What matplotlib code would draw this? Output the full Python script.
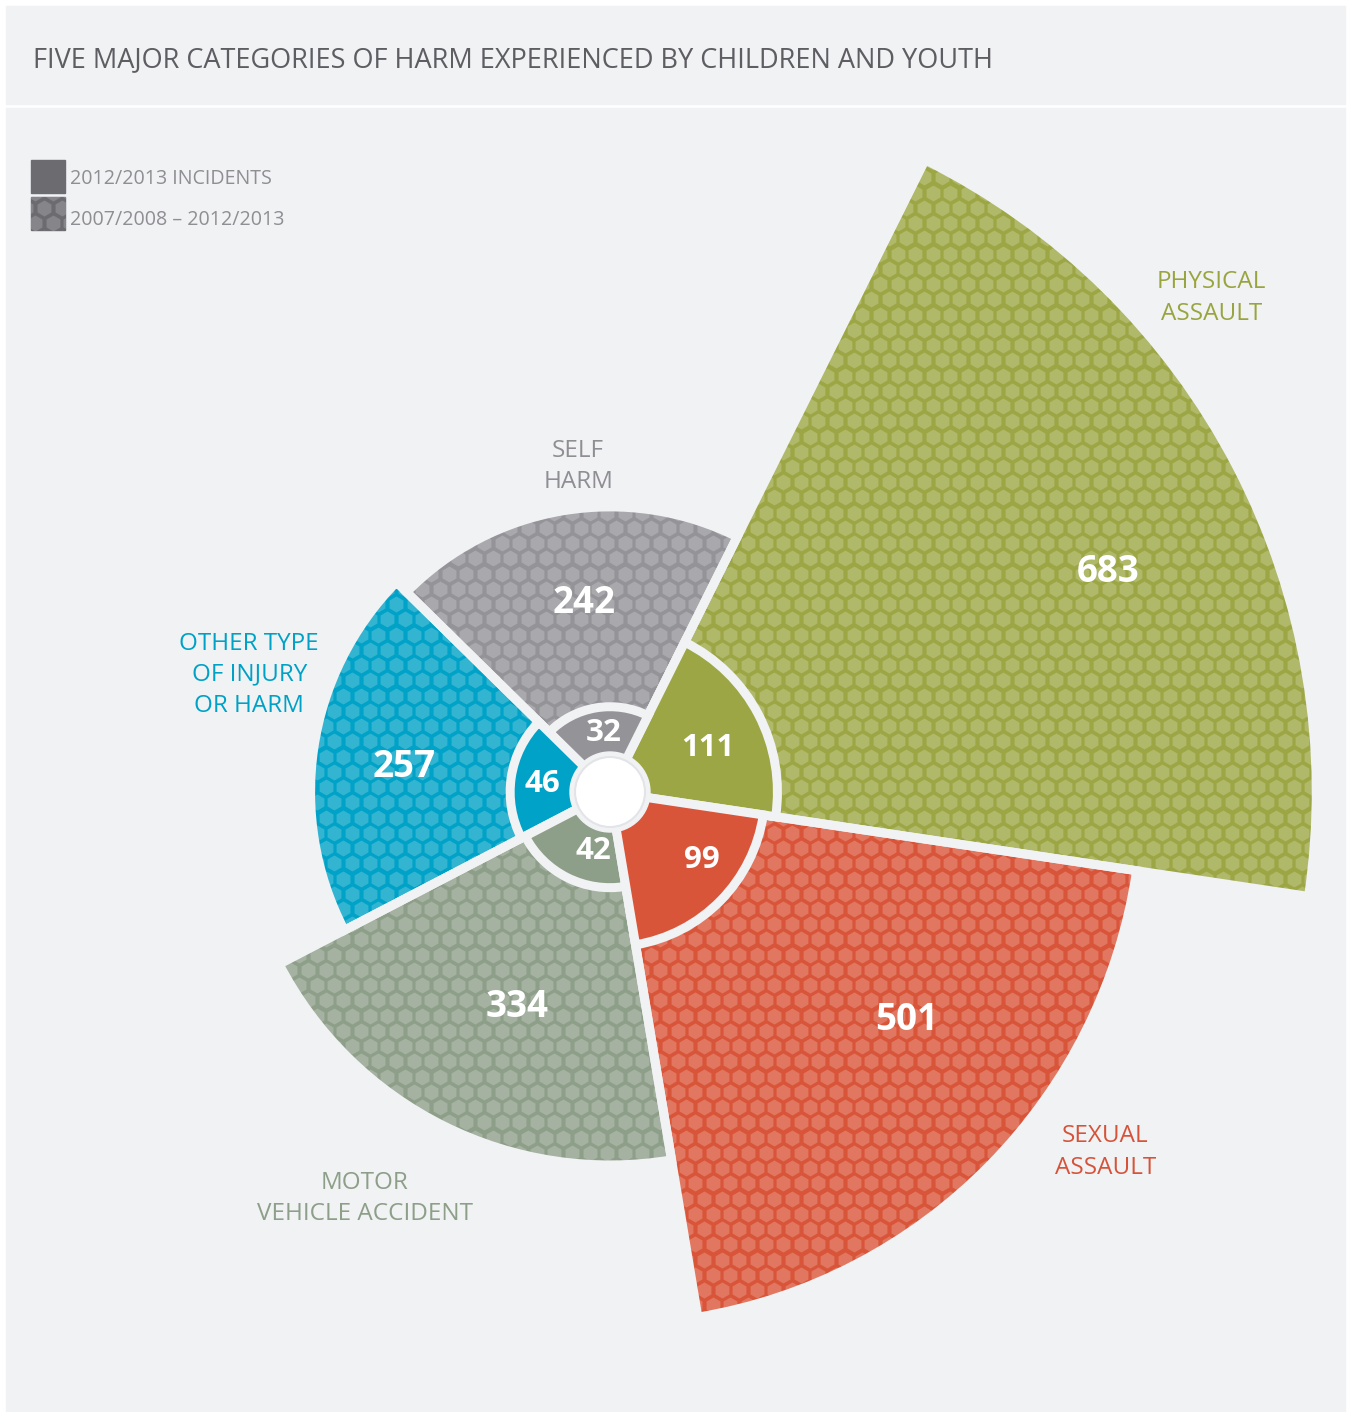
import matplotlib.pyplot as plt
import numpy as np
from matplotlib.patches import Wedge, Circle, Rectangle

# data
categories = ['PHYSICAL\nASSAULT', 'SELF\nHARM', 'OTHER TYPE\nOF INJURY\nOR HARM',
              'MOTOR\nVEHICLE ACCIDENT', 'SEXUAL\nASSAULT']
incidents_1213 = [111, 32, 46, 42, 99]
incidents_0713 = [683, 242, 257, 334, 501]
colors = ['#9ca644', '#939398', '#00a2c7', '#8e9f89', '#d9553a']
text_colors = ['#9aa43f', '#8e8e93', '#00a1c6', '#8d9f89', '#d6533a']
legend_labels = ['2012/2013 INCIDENTS', '2007/2008 \u2013 2012/2013']

# layout (pixels of the output image)
W, H = 1351, 1412
bg = '#f1f2f4'
cx, cy = 610, H - 792
start = -8.5
step = 72
gap_lw = 9 * 72 / 100          # 9 px in points
hole_r = 35


def outer_r(v):
    return 54 + 0.955 * v


def inner_r(v):
    return 52 + 1.04 * v


# label placement tweaks
num_out_shift = [-3.7, -1.6, 1.5, 3.1, 7.0]
num_out_frac = [0.70, 0.53, 0.54, 0.50, 0.58]
num_in_shift = [-3.3, -3.8, 1.5, 10.5, 8.0]
num_in_frac = [0.64, 0.70, 0.68, 0.64, 0.74]
cat_angle = [39.4, 95.6, 162, 238.9, -36]
cat_pad = [72, 42, 80, 102, 80]


def lighten(c, f=0.2):
    rgb = np.array(plt.matplotlib.colors.to_rgb(c))
    return tuple(rgb + (1 - rgb) * f)


def polar(a, r):
    t = np.radians(a)
    return cx + r * np.cos(t), cy + r * np.sin(t)


# honeycomb texture grid
hx = 17.6
hy = hx * np.sqrt(3) / 2
gx, gy = [], []
for k, yy in enumerate(np.arange(0, H + hy, hy)):
    xx = np.arange(0, W + hx, hx) + (hx / 2 if k % 2 else 0)
    gx.extend(xx)
    gy.extend([yy] * len(xx))
gx = np.array(gx)
gy = np.array(gy)
hex_s = (16 * 0.72) ** 2


def hex_fill(patch, color):
    sc = ax.scatter(gx, gy, s=hex_s, marker='h', color=color, linewidths=0, zorder=patch.get_zorder() + 0.5)
    sc.set_clip_path(patch)


fig = plt.figure(figsize=(W / 100, H / 100), dpi=100)
fig.patch.set_facecolor('white')
ax = fig.add_axes([0, 0, 1, 1])
ax.set_xlim(0, W)
ax.set_ylim(0, H)
ax.axis('off')

# panels
ax.add_patch(Rectangle((6, H - 104), W - 12, 98, color=bg, zorder=0))
ax.add_patch(Rectangle((6, 0), W - 12, H - 108, color=bg, zorder=0))

ax.text(33, H - 60, 'FIVE MAJOR CATEGORIES OF HARM EXPERIENCED BY CHILDREN AND YOUTH',
        fontsize=19.5, family='Open Sans', color='#5d5d62', va='center', ha='left')

# legend
box1 = Rectangle((31, H - 193), 34, 33, color='#6b6b70', zorder=2)
ax.add_patch(box1)
box2 = Rectangle((31, H - 230), 34, 33, color='#6b6b70', zorder=2)
ax.add_patch(box2)
hex_fill(box2, lighten('#6b6b70', 0.18))
ax.text(70, H - 179, legend_labels[0], fontsize=14.1, family='Open Sans', color='#8e8e93', va='center')
ax.text(70, H - 220, legend_labels[1], fontsize=14.1, family='Open Sans', color='#8e8e93', va='center')

for i in range(len(categories)):
    a1 = start + i * step
    a2 = a1 + step
    mid = (a1 + a2) / 2
    R = outer_r(incidents_0713[i])
    r = inner_r(incidents_1213[i])

    w = Wedge((cx, cy), R, a1, a2, facecolor=colors[i], edgecolor='none', zorder=2)
    ax.add_patch(w)
    hex_fill(w, lighten(colors[i], 0.2))
    ax.add_patch(Wedge((cx, cy), R, a1, a2, facecolor='none', edgecolor=bg, lw=gap_lw, zorder=3))

    ax.add_patch(Wedge((cx, cy), r, a1, a2, facecolor=colors[i], edgecolor=bg, lw=gap_lw, zorder=4))

    x, y = polar(mid + num_out_shift[i], r + num_out_frac[i] * (R - r))
    ax.text(x, y, str(incidents_0713[i]), fontsize=26.5, family='Open Sans', weight='bold',
            color='white', ha='center', va='center', zorder=6)
    x, y = polar(mid + num_in_shift[i], num_in_frac[i] * r)
    ax.text(x, y, str(incidents_1213[i]), fontsize=22.5, family='Open Sans', weight='bold',
            color='white', ha='center', va='center', zorder=6)

    x, y = polar(cat_angle[i], R + cat_pad[i])
    ax.text(x, y, categories[i], fontsize=17.5, family='Open Sans', color=text_colors[i],
            ha='center', va='center', multialignment='center', linespacing=1.4, zorder=6)

ax.add_patch(Circle((cx, cy), hole_r + 5, color=bg, zorder=5))
ax.add_patch(Circle((cx, cy), hole_r, facecolor='white', edgecolor='#e3e4e7', lw=1.5, zorder=5.5))

fig.savefig('out.png', dpi=100, facecolor=fig.get_facecolor())
